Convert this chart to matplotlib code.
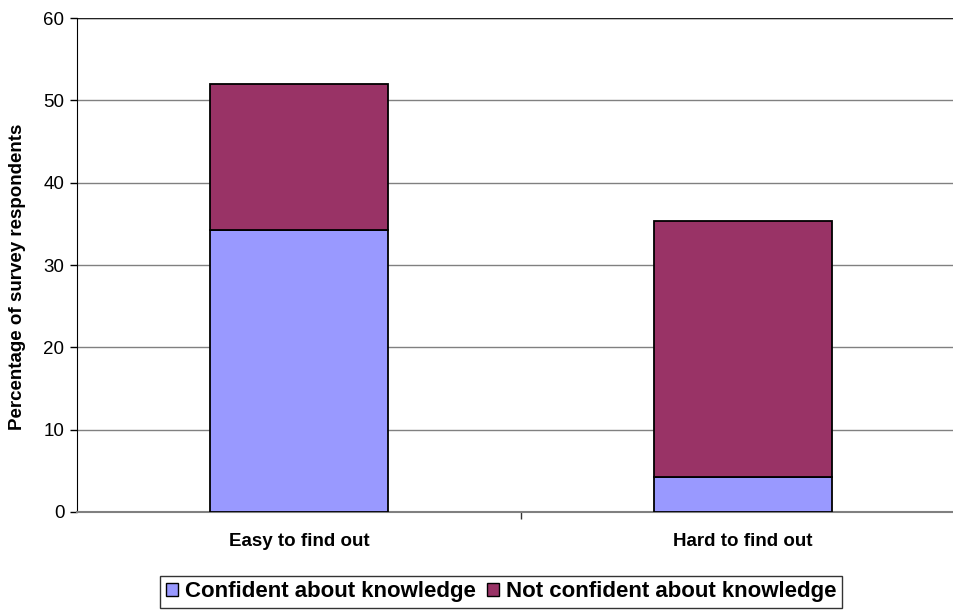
import matplotlib
matplotlib.use("Agg")
import matplotlib.pyplot as plt
from matplotlib.patches import Patch

categories = ["Easy to find out", "Hard to find out"]
confident = [34.3, 4.3]
not_confident = [17.7, 31.1]
series_names = ["Confident about knowledge", "Not confident about knowledge"]
colors = ["#9999FF", "#993366"]

plt.rcParams["font.family"] = ["Liberation Sans", "DejaVu Sans"]

fig = plt.figure(figsize=(9.54, 6.11), dpi=100)
ax = fig.add_axes([77 / 954, 99 / 611, 877 / 954, 494 / 611])

x = list(range(len(categories)))
ax.bar(x, confident, width=0.4, color=colors[0], edgecolor="black", linewidth=1.3, zorder=3)
ax.bar(x, not_confident, width=0.4, bottom=confident, color=colors[1],
       edgecolor="black", linewidth=1.3, zorder=3)

ax.set_xlim(-0.5, 1.475)
ax.set_ylim(0, 60)
ax.set_yticks(range(0, 61, 10))
ax.tick_params(axis="y", labelsize=13.5, length=5, width=1, direction="out", pad=4)
for y in range(10, 61, 10):
    ax.axhline(y, color="#808080", linewidth=1, zorder=1)
ax.axhline(60, color="#222222", linewidth=1, zorder=2)

ax.set_xticks([0.5])
ax.set_xticklabels([""])
ax.tick_params(axis="x", length=5, width=1, color="#333333")
for xi, name in zip(x, categories):
    ax.text(xi, -2.5, name, ha="center", va="top", fontsize=13.5, fontweight="bold")

ax.spines["top"].set_visible(False)
ax.spines["right"].set_visible(False)
ax.spines["left"].set_color("black")
ax.spines["bottom"].set_color("#808080")
ax.spines["bottom"].set_linewidth(1.5)

fig.text(18 / 954, 1 - 277 / 611, "Percentage of survey respondents", rotation=90,
         ha="center", va="center", fontsize=13.5, fontweight="bold")

handles = [Patch(facecolor=c, edgecolor="black", linewidth=1) for c in colors]
leg = fig.legend(handles, series_names, loc="center", bbox_to_anchor=(501 / 954, 1 - 592 / 611),
                 ncol=2, frameon=True, fancybox=False, edgecolor="black",
                 prop={"size": 16, "weight": "bold"}, handlelength=0.55, handleheight=0.55,
                 handletextpad=0.3, columnspacing=0.5, borderpad=0.25, borderaxespad=0)
leg.get_frame().set_linewidth(1)

fig.savefig("out.png", dpi=100)
